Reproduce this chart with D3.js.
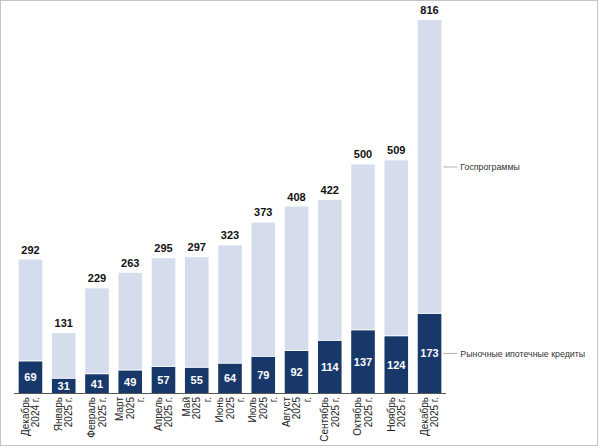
<!DOCTYPE html>
<html>
<head>
<meta charset="utf-8">
<script src="https://cdn.jsdelivr.net/npm/d3@7"></script>
<style>
  body { margin: 0; background: #fff; }
  svg { display: block; font-family: "Liberation Sans", Arial, sans-serif; }
</style>
</head>
<body>
<script>
var width = 600
var height = 448

// months, each label split into lines as in the picture
var months = [
  ["Декабрь", "2024 г."],
  ["Январь", "2025 г."],
  ["Февраль", "2025 г."],
  ["Март", "2025", "г."],
  ["Апрель", "2025 г."],
  ["Май", "2025", "г."],
  ["Июнь", "2025", "г."],
  ["Июль", "2025", "г."],
  ["Август", "2025", "г."],
  ["Сентябрь", "2025 г."],
  ["Октябрь", "2025 г."],
  ["Ноябрь", "2025 г."],
  ["Декабрь", "2025 г."]
]
var market = [69, 31, 41, 49, 57, 55, 64, 79, 92, 114, 137, 124, 173]
var totals = [292, 131, 229, 263, 295, 297, 323, 373, 408, 422, 500, 509, 816]

var darkColor = "#18386a"
var lightColor = "#d5ddec"

var svg = d3.select("body")
  .append("svg")
  .attr("width", width)
  .attr("height", height)

// frame
svg.append("rect")
  .attr("x", 0.5).attr("y", 0.5)
  .attr("width", width - 3).attr("height", height - 3)
  .attr("fill", "none")
  .attr("stroke", "#c4c4c4")

var x = d3.scaleBand()
  .domain(d3.range(months.length))
  .range([14, 446])
  .paddingInner(0.29)
  .paddingOuter(0.14)

var y = d3.scaleLinear()
  .domain([0, 816])
  .range([393, 20])

var bars = svg.selectAll("g.bar")
  .data(totals)
  .enter()
  .append("g")
  .attr("class", "bar")

// light segment (gos programs) — total minus market
bars.append("rect")
  .attr("x", function(d, i) { return x(i) })
  .attr("width", x.bandwidth())
  .attr("y", function(d) { return y(d) })
  .attr("height", function(d, i) { return y(market[i]) - y(d) - 1 })
  .attr("fill", lightColor)

bars.append("rect")
  .attr("x", function(d, i) { return x(i) })
  .attr("width", x.bandwidth())
  .attr("y", function(d, i) { return y(market[i]) })
  .attr("height", function(d, i) { return y(0) - y(market[i]) })
  .attr("fill", darkColor)

// totals on top
bars.append("text")
  .attr("x", function(d, i) { return x(i) + x.bandwidth() / 2 })
  .attr("y", function(d) { return y(d) - 6 })
  .attr("text-anchor", "middle")
  .attr("font-size", 11)
  .attr("font-weight", "bold")
  .attr("fill", "#111")
  .text(function(d) { return d })

// market values inside the dark part
bars.append("text")
  .attr("x", function(d, i) { return x(i) + x.bandwidth() / 2 })
  .attr("y", function(d, i) { return (y(market[i]) + y(0)) / 2 })
  .attr("dy", "0.36em")
  .attr("text-anchor", "middle")
  .attr("font-size", 11)
  .attr("font-weight", "bold")
  .attr("fill", "#fff")
  .text(function(d, i) { return market[i] })

// axis line
svg.append("line")
  .attr("x1", 14).attr("x2", 446)
  .attr("y1", y(0) + 0.5).attr("y2", y(0) + 0.5)
  .attr("stroke", "#555")

// rotated month labels
var lbl = svg.selectAll("g.lbl")
  .data(months)
  .enter()
  .append("g")
  .attr("class", "lbl")
  .attr("transform", function(d, i) {
    var cx = x(i) + x.bandwidth() / 2
    return "translate(" + cx + "," + (y(0) + 4) + ") rotate(-90)"
  })

lbl.each(function(lines) {
  var g = d3.select(this)
  var n = lines.length
  lines.forEach(function(t, k) {
    g.append("text")
      .attr("x", 0)
      .attr("y", (k - (n - 1) / 2) * 10.5)
      .attr("dy", "0.35em")
      .attr("text-anchor", "end")
      .attr("font-size", 10)
      .attr("fill", "#222")
      .text(t)
  })
})

// legend callouts on the last bar
var last = months.length - 1
var lx = x(last) + x.bandwidth()
var legend = [
  { name: "Госпрограммы", yv: (y(totals[last]) + y(market[last])) / 2 },
  { name: "Рыночные ипотечные кредиты", yv: (y(market[last]) + y(0)) / 2 }
]
legend.forEach(function(l) {
  svg.append("line")
    .attr("x1", lx + 2).attr("x2", lx + 16)
    .attr("y1", l.yv).attr("y2", l.yv)
    .attr("stroke", "#b0b0b0")
  svg.append("text")
    .attr("x", lx + 19)
    .attr("y", l.yv)
    .attr("dy", "0.35em")
    .attr("font-size", 8.8)
    .attr("fill", "#333")
    .text(l.name)
})
</script>
</body>
</html>
